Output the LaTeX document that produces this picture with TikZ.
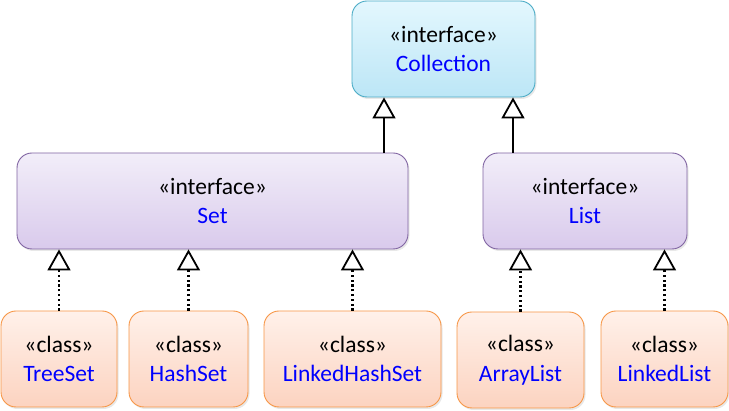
\documentclass[tikz,border=0pt]{standalone}
\usepackage{fontspec}
\setmainfont{Carlito}
\usetikzlibrary{arrows.meta,shadows}
\definecolor{colTop}{HTML}{E3F7FE}
\definecolor{colBot}{HTML}{BCE6F6}
\definecolor{colBd}{HTML}{4BACC6}
\definecolor{ifTop}{HTML}{F2EEF9}
\definecolor{ifBot}{HTML}{D9CAEC}
\definecolor{ifBd}{HTML}{8064A2}
\definecolor{clTop}{HTML}{FFF1EA}
\definecolor{clBot}{HTML}{FCD3C0}
\definecolor{clBd}{HTML}{F79646}
\definecolor{nameBlue}{HTML}{0000FF}
\begin{document}
\begin{tikzpicture}[x=1pt,y=1pt,
  box/.style={rectangle, rounded corners=15pt, line width=0.9pt, align=center,
    inner sep=0pt, minimum height=96pt,
    font=\fontsize{23.5}{29.5}\selectfont,
    drop shadow={shadow xshift=1.5pt, shadow yshift=-2pt, opacity=0.18}},
  colbox/.style={box, draw=colBd, top color=colTop, bottom color=colBot},
  ifbox/.style={box, draw=ifBd, top color=ifTop, bottom color=ifBot},
  clbox/.style={box, draw=clBd, top color=clTop, bottom color=clBot},
  gen/.style={-{Triangle[open, length=21pt, width=23pt, line width=1.8pt]}, line width=2pt},
  realize/.style={gen, line width=2.2pt, dash pattern=on 2.2pt off 2.6pt}
]
\useasboundingbox (0,0) rectangle (729,411);
\newcommand{\nm}[1]{\textcolor{nameBlue}{#1}}
\node[colbox, minimum width=183pt] (col) at (443.5,362) {«interface»\\\nm{Collection}};
\node[ifbox, minimum width=391pt] (set) at (212.5,210) {«interface»\\\nm{Set}};
\node[ifbox, minimum width=204pt] (list) at (585,210) {«interface»\\\nm{List}};
\node[clbox, minimum width=116pt] (tree) at (59,52) {«class»\\\nm{TreeSet}};
\node[clbox, minimum width=119pt] (hash) at (188.5,52) {«class»\\\nm{HashSet}};
\node[clbox, minimum width=177pt] (lhs) at (352.5,52) {«class»\\\nm{LinkedHashSet}};
\node[clbox, minimum width=127pt] (arr) at (520.5,51) {«class»\\\nm{ArrayList}};
\node[clbox, minimum width=127pt] (lnk) at (664.5,52) {«class»\\\nm{LinkedList}};
\draw[gen] ([xshift=171.5pt]set.north) -- ([xshift=171.5pt]set.north |- col.south);
\draw[gen] ([xshift=-72pt]list.north) -- ([xshift=-72pt]list.north |- col.south);
\draw[realize] (tree.north) -- (tree.north |- set.south);
\draw[realize] (hash.north) -- (hash.north |- set.south);
\draw[realize] (lhs.north) -- (lhs.north |- set.south);
\draw[realize] (arr.north) -- (arr.north |- list.south);
\draw[realize] (lnk.north) -- (lnk.north |- list.south);
\end{tikzpicture}
\end{document}
